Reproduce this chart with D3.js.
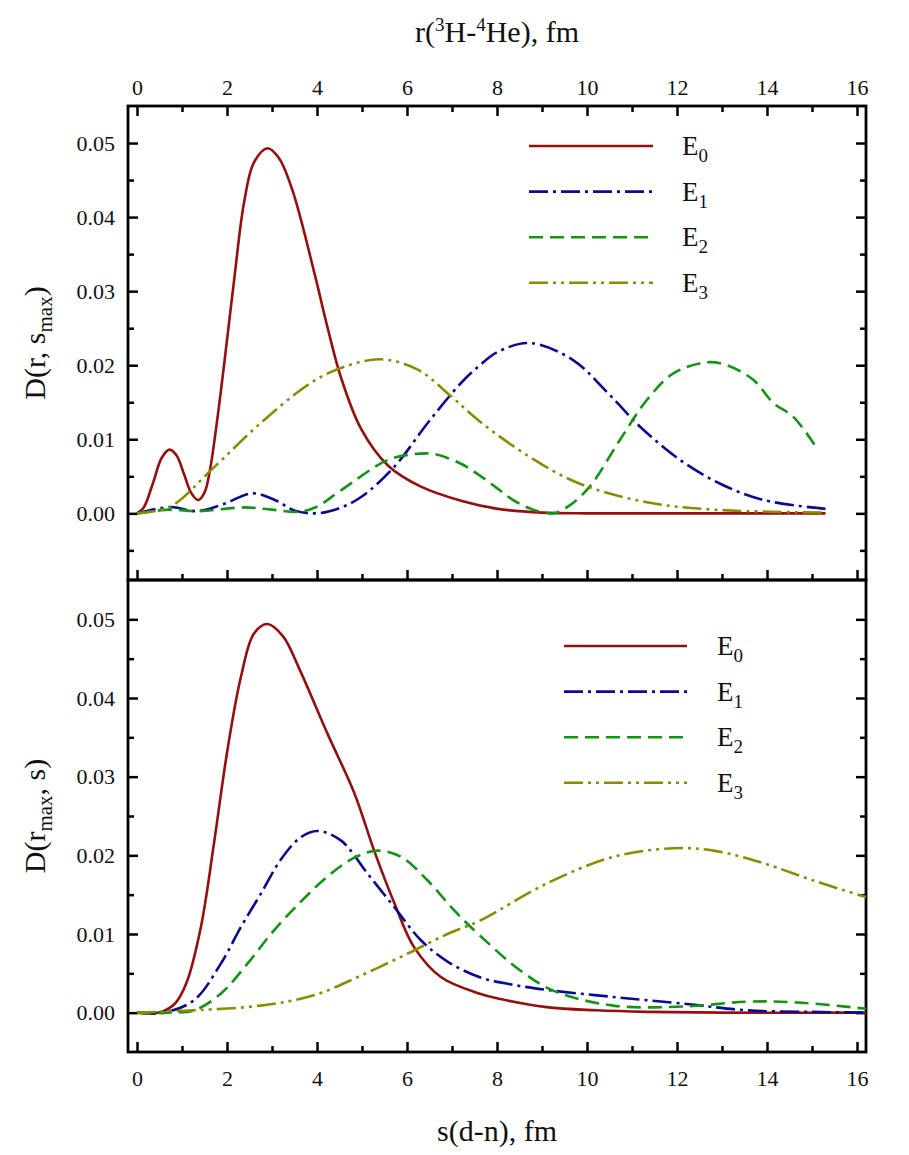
<!DOCTYPE html>
<html>
<head>
<meta charset="utf-8">
<script src="https://cdn.jsdelivr.net/npm/d3@7"></script>
<style>
  body { margin: 0; background: #fff; }
  svg, svg text { font-family: "Liberation Serif", "Times New Roman", serif; }
</style>
</head>
<body>
<div id="chart"></div>
<script>
// series names and styles
var seriesNames = ["E0", "E1", "E2", "E3"];
var seriesColors = ["#960f0f", "#0a0a96", "#139413", "#8c8c00"];
var seriesDash = [null, "19,5,3,5", "14,7", "19,5,3,5,3,5"];

// top panel: D(r, s_max) vs r
var topE0 = [[0,0],[0.15,0.0008],[0.35,0.0040],[0.55,0.0075],[0.72,0.0086],[0.88,0.0078],[1.05,0.0052],[1.2,0.0028],[1.36,0.0018],[1.5,0.0028],[1.62,0.0058],[1.78,0.0125],[1.94,0.0203],[2.16,0.0316],[2.38,0.042],[2.6,0.0474],[2.9,0.0493],[3.15,0.0480],[3.45,0.0437],[3.94,0.0325],[4.23,0.0252],[4.53,0.0184],[4.98,0.0114],[5.57,0.0065],[6.31,0.0036],[7.2,0.0017],[8.02,0.0006],[9,0.0001],[10,0],[12,0],[15.3,0]];
var topE1 = [[0,0],[0.74,0.00085],[1.34,0.0003],[1.9,0.0012],[2.57,0.0027],[3.1,0.0017],[3.49,0.0004],[4.0,0],[4.5,0.0007],[4.98,0.0022],[5.72,0.0063],[6.46,0.0122],[7.2,0.0176],[7.62,0.02],[8.02,0.0218],[8.73,0.023],[9.69,0.0207],[10.44,0.0164],[11.18,0.0117],[12.07,0.0072],[12.96,0.004],[13.92,0.0018],[15.3,0.0006]];
var topE2 = [[0,0],[0.74,0.0005],[1.34,0.0003],[2.38,0.0008],[3.0,0.0005],[3.6,0.0002],[4.0,0.0009],[4.53,0.0031],[5.57,0.0072],[6.16,0.008],[6.61,0.008],[7.2,0.0067],[7.62,0.0051],[8.02,0.0033],[8.36,0.0018],[8.8,0.0005],[9.25,0],[9.6,0.001],[10.06,0.0036],[10.73,0.0099],[11.33,0.0153],[11.92,0.0189],[12.66,0.0204],[13.11,0.02],[13.7,0.018],[14.14,0.0149],[14.59,0.013],[15.14,0.0085]];
var topE3 = [[0,0],[0.74,0.0009],[1.64,0.0058],[2.75,0.0122],[3.86,0.0176],[4.61,0.0198],[5.42,0.0208],[6.24,0.0194],[6.98,0.0158],[7.62,0.0124],[8.73,0.0076],[9.84,0.004],[11.33,0.0015],[12.81,0.0005],[15.3,0.0001]];

// bottom panel: D(r_max, s) vs s
var botE0 = [[0,0],[0.53,0.0001],[0.85,0.0012],[1.1,0.0038],[1.42,0.0109],[1.71,0.0215],[2.01,0.0334],[2.31,0.0427],[2.6,0.0482],[2.9,0.0494],[3.25,0.0478],[3.6,0.0438],[4.23,0.0355],[4.83,0.0279],[5.27,0.0206],[5.72,0.0139],[6.16,0.0083],[6.76,0.0045],[7.62,0.0024],[8.02,0.0018],[9.1,0.0007],[10.2,0.0003],[11.33,0.0001],[13,0],[16.2,0]];
var botE1 = [[0,0],[0.6,0],[1.27,0.0016],[1.86,0.0062],[2.31,0.0109],[2.75,0.0151],[3.2,0.0195],[3.64,0.0223],[4.01,0.0231],[4.53,0.0219],[5.12,0.0177],[5.72,0.0134],[6.31,0.0092],[6.9,0.0065],[7.62,0.0045],[8.3,0.0036],[9.1,0.0029],[10.58,0.002],[12.22,0.0011],[13.55,0.0003],[15.0,0.0001],[16.2,0]];
var botE2 = [[0,0],[0.7,0],[1.27,0.0003],[1.86,0.0024],[2.45,0.0062],[3.05,0.0105],[3.64,0.0141],[4.23,0.0173],[4.83,0.0197],[5.35,0.0206],[5.87,0.0198],[6.46,0.0168],[7.05,0.013],[7.62,0.0098],[8.51,0.0054],[9.25,0.0028],[10.58,0.0009],[12.22,0.0008],[13.55,0.0014],[14.66,0.0013],[16.2,0.0005]];
var botE3 = [[0,0],[1.27,0.0003],[2.75,0.0009],[3.93,0.0022],[4.97,0.0047],[6.01,0.0075],[6.9,0.01],[7.62,0.0117],[9.1,0.0164],[10.58,0.0198],[11.92,0.0209],[12.81,0.0206],[13.92,0.019],[15.03,0.0168],[16.2,0.0147]];

var xTicks = [0, 2, 4, 6, 8, 10, 12, 14, 16];
var xMinor = [1, 3, 5, 7, 9, 11, 13, 15];
var yTicks = [0, 0.01, 0.02, 0.03, 0.04, 0.05];
var yMinorTop = [-0.005, 0.005, 0.015, 0.025, 0.035, 0.045];
var yMinorBot = [0.005, 0.015, 0.025, 0.035, 0.045];

var svgWidth = 909, svgHeight = 1155;
var left = 128, right = 866;
var topPanel = { top: 106, bottom: 580 };
var botPanel = { top: 580, bottom: 1052 };

var svg = d3.select("#chart").append("svg")
  .attr("width", svgWidth)
  .attr("height", svgHeight);

var x = d3.scaleLinear().domain([-0.2, 16.2]).range([left, right]);
var yTop = d3.scaleLinear().domain([-0.009, 0.055]).range([topPanel.bottom, topPanel.top]);
var yBot = d3.scaleLinear().domain([-0.005, 0.055]).range([botPanel.bottom, botPanel.top]);

// draw ticks helper (inward ticks, optional labels)
function drawAxis(axisGen, transform, showLabels) {
  var g = svg.append("g").attr("transform", transform).call(axisGen);
  g.select(".domain").remove();
  g.selectAll(".tick line").attr("stroke", "#000").attr("stroke-width", 2.5);
  if (!showLabels) g.selectAll(".tick text").remove();
  g.selectAll(".tick text")
    .style("font-family", "'Liberation Serif', 'Times New Roman', serif")
    .style("font-size", "22px")
    .style("fill", "#111");
  return g;
}

var fmtY = d3.format(".2f");

// top panel axes
drawAxis(d3.axisBottom(x).tickValues(xTicks).tickSize(10), `translate(0,${topPanel.top})`, false);
drawAxis(d3.axisBottom(x).tickValues(xMinor).tickSize(6), `translate(0,${topPanel.top})`, false);
drawAxis(d3.axisTop(x).tickValues(xTicks).tickSize(0).tickPadding(11), `translate(0,${topPanel.top})`, true);

drawAxis(d3.axisTop(x).tickValues(xTicks).tickSize(10), `translate(0,${topPanel.bottom})`, false);
drawAxis(d3.axisTop(x).tickValues(xMinor).tickSize(6), `translate(0,${topPanel.bottom})`, false);

var yl1 = drawAxis(d3.axisRight(yTop).tickValues(yTicks).tickSize(10).tickFormat(fmtY), `translate(${left},0)`, true);
yl1.selectAll(".tick text").attr("x", -13).attr("text-anchor", "end");
drawAxis(d3.axisRight(yTop).tickValues(yMinorTop).tickSize(6), `translate(${left},0)`, false);
drawAxis(d3.axisLeft(yTop).tickValues(yTicks).tickSize(10), `translate(${right},0)`, false);
drawAxis(d3.axisLeft(yTop).tickValues(yMinorTop).tickSize(6), `translate(${right},0)`, false);

// bottom panel axes
drawAxis(d3.axisTop(x).tickValues(xTicks).tickSize(10), `translate(0,${botPanel.bottom})`, false);
drawAxis(d3.axisTop(x).tickValues(xMinor).tickSize(6), `translate(0,${botPanel.bottom})`, false);
drawAxis(d3.axisBottom(x).tickValues(xTicks).tickSize(0).tickPadding(18), `translate(0,${botPanel.bottom})`, true);

var yl2 = drawAxis(d3.axisRight(yBot).tickValues(yTicks).tickSize(10).tickFormat(fmtY), `translate(${left},0)`, true);
yl2.selectAll(".tick text").attr("x", -13).attr("text-anchor", "end");
drawAxis(d3.axisRight(yBot).tickValues(yMinorBot).tickSize(6), `translate(${left},0)`, false);
drawAxis(d3.axisLeft(yBot).tickValues(yTicks).tickSize(10), `translate(${right},0)`, false);
drawAxis(d3.axisLeft(yBot).tickValues(yMinorBot).tickSize(6), `translate(${right},0)`, false);

// frames
[topPanel, botPanel].forEach(function(p) {
  svg.append("rect")
    .attr("x", left).attr("y", p.top)
    .attr("width", right - left).attr("height", p.bottom - p.top)
    .attr("fill", "none").attr("stroke", "#000").attr("stroke-width", 2.8);
});

// curves
function drawCurves(seriesList, yScale) {
  var line = d3.line()
    .x(d => x(d[0]))
    .y(d => yScale(d[1]))
    .curve(d3.curveCatmullRom.alpha(0.5));
  seriesList.forEach(function(data, i) {
    svg.append("path")
      .datum(data)
      .attr("d", line)
      .attr("fill", "none")
      .attr("stroke", seriesColors[i])
      .attr("stroke-width", 2.6)
      .attr("stroke-dasharray", seriesDash[i]);
  });
}
drawCurves([topE0, topE1, topE2, topE3], yTop);
drawCurves([botE0, botE1, botE2, botE3], yBot);

// legends
function drawLegend(x0, x1, xt, y0) {
  seriesNames.forEach(function(name, i) {
    var yy = y0 + i * 45.6;
    svg.append("line")
      .attr("x1", x0).attr("x2", x1).attr("y1", yy).attr("y2", yy)
      .attr("stroke", seriesColors[i]).attr("stroke-width", 2.6)
      .attr("stroke-dasharray", seriesDash[i]);
    var t = svg.append("text").attr("x", xt).attr("y", yy + 9)
      .attr("font-size", 27).attr("fill", "#111");
    t.append("tspan").text("E");
    t.append("tspan").attr("dy", 7).attr("font-size", 19).text(name.slice(1));
  });
}
drawLegend(529, 653, 682, 146);
drawLegend(564, 687, 717, 646);

// axis titles
var tt = svg.append("text").attr("x", 497).attr("y", 42)
  .attr("text-anchor", "middle").attr("font-size", 30).attr("fill", "#111");
tt.append("tspan").text("r(");
tt.append("tspan").attr("dy", -11).attr("font-size", 19).text("3");
tt.append("tspan").attr("dy", 11).text("H-");
tt.append("tspan").attr("dy", -11).attr("font-size", 19).text("4");
tt.append("tspan").attr("dy", 11).text("He), fm");

svg.append("text").attr("x", 497).attr("y", 1141)
  .attr("text-anchor", "middle").attr("font-size", 30).attr("fill", "#111")
  .text("s(d-n), fm");

var yt1 = svg.append("text")
  .attr("transform", `translate(45,${(topPanel.top + topPanel.bottom) / 2}) rotate(-90)`)
  .attr("text-anchor", "middle").attr("font-size", 30).attr("fill", "#111");
yt1.append("tspan").text("D(r, s");
yt1.append("tspan").attr("dy", 7).attr("font-size", 21).text("max");
yt1.append("tspan").attr("dy", -7).text(")");

var yt2 = svg.append("text")
  .attr("transform", `translate(45,${(botPanel.top + botPanel.bottom) / 2}) rotate(-90)`)
  .attr("text-anchor", "middle").attr("font-size", 30).attr("fill", "#111");
yt2.append("tspan").text("D(r");
yt2.append("tspan").attr("dy", 7).attr("font-size", 21).text("max");
yt2.append("tspan").attr("dy", -7).text(", s)");
</script>
</body>
</html>
